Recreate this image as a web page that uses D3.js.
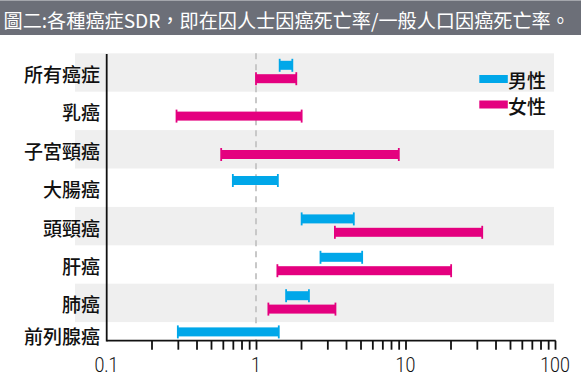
<!DOCTYPE html>
<html><head><meta charset="utf-8">
<script src="https://cdn.jsdelivr.net/npm/d3@7"></script>
<style>body{margin:0;background:#fff}svg{display:block}</style></head>
<body><svg id="c" width="581" height="381"></svg>
<script>
const categories = ["所有癌症","乳癌","子宮頸癌","大腸癌","頭頸癌","肝癌","肺癌","前列腺癌"];
const maleLow    = [1.44, null, null, 0.70, 2.02, 2.70, 1.59, 0.30];
const maleHigh   = [1.75, null, null, 1.40, 4.51, 5.13, 2.26, 1.42];
const femaleLow  = [1.00, 0.294, 0.585, null, 3.37, 1.39, 1.21, null];
const femaleHigh = [1.86, 2.02, 9.02, null, 32.6, 20.2, 3.40, null];
const seriesNames = ["男性","女性"];
const decadeTicks = [0.1, 1, 10, 100];
const tickLabels = ["0.1","1","10","100"];
const refValue = 1;
const title = "圖二:各種癌症SDR，即在囚人士因癌死亡率/一般人口因癌死亡率。";

const colors = {"男性":"#00a7e9","女性":"#e4007f"};
const svg = d3.select("#c");
const W = 581;
const axisY = 340.7;
const cjk = "'Noto Sans CJK TC','Noto Sans CJK SC',sans-serif";

// title bar
svg.append("rect").attr("x",0).attr("y",0).attr("width",W).attr("height",35).attr("fill","#6c6f78");
svg.append("rect").attr("x",0).attr("y",0).attr("width",W).attr("height",1).attr("fill","#a4a6ac");
const tt = svg.append("text").attr("x",3.5).attr("y",20).attr("dominant-baseline","central")
  .attr("fill","#fff").style("font-family",cjk).style("font-size","19.3px")
  .text(title);
// fit title inside the bar with a small margin
const natural = tt.node().getComputedTextLength();
if (natural > 566) tt.style("font-size", (19.3*566/natural).toFixed(2)+"px");

const x = d3.scaleLog().domain([0.1,100]).range([106.5,555]);
const y = d3.scaleBand().domain(categories).range([53.3, 53.3 + 38.4*categories.length]).padding(0);
const bw = y.bandwidth();
const rowTop = c => y(c);
const rowBot = c => Math.min(y(c)+bw, axisY);
const rowMid = c => (rowTop(c)+rowBot(c))/2;

// bands
svg.append("g").selectAll("rect").data(categories.filter((c,i)=>i%2===0)).join("rect")
  .attr("x",75).attr("width",554-75)
  .attr("y",c=>rowTop(c)).attr("height",c=>rowBot(c)-rowTop(c))
  .attr("fill","#efefef");

// reference dashed line
svg.append("line").attr("x1",x(refValue)).attr("x2",x(refValue))
  .attr("y1",53.3).attr("y2",axisY)
  .attr("stroke","#c8c8c8").attr("stroke-width",2).attr("stroke-dasharray","6,5");

// build records
const recs = [];
categories.forEach((c,i)=>{
  const hasM = maleLow[i]!=null, hasF = femaleLow[i]!=null;
  const clipped = y(c)+bw > axisY;
  if (hasM) recs.push({c, s:"男性", lo:maleLow[i], hi:maleHigh[i], off: clipped && !hasF ? 0.5 : -7.2});
  if (hasF) recs.push({c, s:"女性", lo:femaleLow[i], hi:femaleHigh[i], off: clipped && !hasM ? 0.5 : (hasM ? 6.2 : 5.2)});
});
const barH = 9, capH = 13;
const gb = svg.append("g");
gb.selectAll("rect").data(recs).join("rect")
  .attr("x",d=>x(d.lo)).attr("width",d=>x(d.hi)-x(d.lo))
  .attr("y",d=>rowMid(d.c)+d.off-barH/2).attr("height",barH)
  .attr("fill",d=>colors[d.s]);
["lo","hi"].forEach(k=>{
  gb.append("g").selectAll("line").data(recs).join("line")
    .attr("x1",d=>x(d[k])).attr("x2",d=>x(d[k]))
    .attr("y1",d=>rowMid(d.c)+d.off-capH/2).attr("y2",d=>rowMid(d.c)+d.off+capH/2)
    .attr("stroke",d=>colors[d.s]).attr("stroke-width",1.8);
});

// category labels
svg.append("g").selectAll("text").data(categories).join("text")
  .attr("x",100).attr("y",(c,i)=>rowMid(c)+ (y(c)+bw>axisY ? 4.5 : 1))
  .attr("text-anchor","end").attr("dominant-baseline","central")
  .style("font-family",cjk).style("font-size","19px").style("font-weight",500).attr("fill","#111")
  .text(c=>c);

// axes
const minorTicks = [];
decadeTicks.slice(0,-1).forEach(d=>{ for(let k=1;k<10;k++) minorTicks.push(d*k); });
minorTicks.push(100);
const tickVals = minorTicks.filter(v=>v>0.1+1e-9);
const ax = d3.axisBottom(x).tickValues(tickVals).tickSizeInner(9).tickSizeOuter(0).tickFormat("");
const gx = svg.append("g").attr("transform",`translate(0,${axisY})`).call(ax);
gx.select(".domain").remove();
gx.selectAll(".tick line").attr("stroke","#111").attr("stroke-width",1.8);
gx.append("g").selectAll("text").data(decadeTicks).join("text")
  .attr("x",d=>x(d)).attr("y",24.5)
  .attr("text-anchor","middle").attr("dominant-baseline","central")
  .style("font-family","Roboto, 'DejaVu Sans', sans-serif").style("font-weight",300)
  .style("font-size","21px").attr("fill","#111")
  .attr("transform",d=>`translate(${x(d)},0) scale(0.85,1) translate(${-x(d)},0)`)
  .text((d,i)=>tickLabels[i]);

// axis lines
svg.append("line").attr("x1",106.7).attr("x2",106.7).attr("y1",54).attr("y2",axisY+0.9)
  .attr("stroke","#111").attr("stroke-width",1.8);
svg.append("line").attr("x1",106.7).attr("x2",555.8).attr("y1",axisY).attr("y2",axisY)
  .attr("stroke","#111").attr("stroke-width",1.8);

// legend
const lg = svg.append("g");
seriesNames.forEach((s,i)=>{
  const cy = 79 + i*25.5;
  lg.append("rect").attr("x",479.3).attr("y",cy-4).attr("width",28.5).attr("height",8).attr("fill",colors[s]);
  lg.append("text").attr("x",508).attr("y",cy+0.5).attr("dominant-baseline","central")
    .style("font-family",cjk).style("font-size","19px").style("font-weight",500).attr("fill","#111").text(s);
});
</script></body></html>
